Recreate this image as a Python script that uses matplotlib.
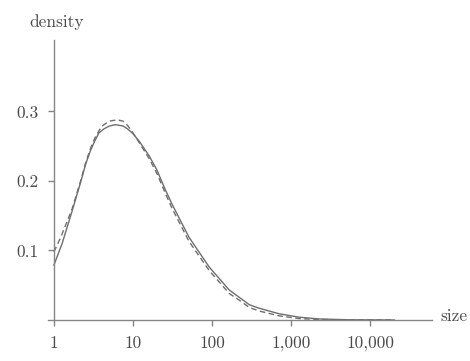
import matplotlib
matplotlib.use("Agg")
import matplotlib.pyplot as plt

# density of size, fitted curve (solid) and observed (dashed)
size_fit = [1, 1.27, 1.7, 2.2, 2.5, 2.9, 3.3, 3.7, 4.3, 5.0, 6.0, 7.5, 8.5,
            10, 12, 16, 20, 25, 31, 51, 92, 165, 230, 295, 390, 700, 1260,
            2250, 5400, 20000]
density_fit = [0.079, 0.110, 0.157, 0.200, 0.223, 0.244, 0.258, 0.269, 0.275,
               0.279, 0.281, 0.279, 0.275, 0.268, 0.257, 0.236, 0.216, 0.190,
               0.167, 0.119, 0.076, 0.043, 0.031, 0.022, 0.017, 0.009, 0.004,
               0.0015, 0.0003, 0.0]

size_obs = [1, 1.22, 1.7, 2.2, 2.5, 2.9, 3.3, 3.7, 4.05, 5.0, 6.3, 7.5, 8.5,
            10, 12, 16, 20, 25, 31, 51, 92, 165, 230, 295, 390, 700, 1260,
            2250, 5400, 20000]
density_obs = [0.098, 0.119, 0.160, 0.202, 0.225, 0.247, 0.262, 0.272, 0.279,
               0.286, 0.288, 0.286, 0.280, 0.269, 0.255, 0.232, 0.211, 0.185,
               0.161, 0.113, 0.071, 0.038, 0.027, 0.018, 0.013, 0.006, 0.002,
               0.0007, 0.0001, 0.0]

xticks = [1, 10, 100, 1000, 10000]
xtick_labels = ["1", "10", "100", "1,000", "10,000"]
yticks = [0.1, 0.2, 0.3]
ytick_labels = ["0.1", "0.2", "0.3"]

plt.rcParams["font.family"] = "cmr10"
plt.rcParams["axes.unicode_minus"] = False
plt.rcParams["font.size"] = 12.5

line_col = "#6e6e6e"
axis_col = "#858585"
text_col = "#4a4a4a"

fig = plt.figure(figsize=(4.7, 3.61), dpi=100)
ax = fig.add_axes([0.102, 0.1136, 0.817, 0.776])

ax.plot(size_obs, density_obs, color=line_col, lw=1.0, ls=(0, (4, 2.5)))
ax.plot(size_fit, density_fit, color=line_col, lw=1.0)

ax.set_xscale("log")
ax.set_xlim(0.84, 60000)
ax.set_ylim(0, 0.403)

for s in ["top", "right"]:
    ax.spines[s].set_visible(False)
ax.spines["left"].set_position(("data", 1))
ax.spines["bottom"].set_position(("data", 0))
for s in ["left", "bottom"]:
    ax.spines[s].set_color(axis_col)
    ax.spines[s].set_linewidth(1.0)

ax.set_xticks(xticks)
ax.set_xticklabels(xtick_labels)
ax.minorticks_off()
ax.set_yticks(yticks)
ax.set_yticklabels(ytick_labels)
ax.tick_params(axis="both", direction="out", length=4, width=1.0,
               color=axis_col, labelcolor=text_col, labelsize=12.5)
ax.tick_params(axis="x", pad=7)
ax.tick_params(axis="y", pad=7)

fig.text(0.121, 0.939, "density", ha="center", va="center",
         color=text_col, fontsize=12.5)
fig.text(0.936, 0.125, "size", ha="left", va="center",
         color=text_col, fontsize=12.5)

fig.savefig("out.png", dpi=100)
